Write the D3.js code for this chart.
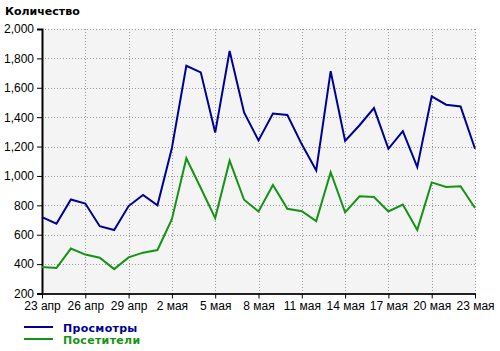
<!DOCTYPE html>
<html>
<head>
<meta charset="utf-8">
<script src="https://cdn.jsdelivr.net/npm/d3@7"></script>
<style>
  body { margin: 0; background: #fff; }
  svg { display: block; }
</style>
</head>
<body>
<main></main>
<script>
// Данные
const days = d3.range(31); // 23 апр .. 23 мая
const tickLabels = ["23 апр", "26 апр", "29 апр", "2 мая", "5 мая", "8 мая",
  "11 мая", "14 мая", "17 мая", "20 мая", "23 мая"];
const views = [720, 675, 840, 812, 658, 632, 795, 870, 800, 1190, 1750, 1705,
  1295, 1850, 1432, 1242, 1425, 1415, 1215, 1038, 1713, 1238, 1345, 1462,
  1185, 1305, 1060, 1542, 1485, 1473, 1185];
const visitors = [381, 373, 506, 465, 443, 366, 446, 478, 496, 705, 1120, 918,
  713, 1104, 838, 758, 938, 776, 760, 693, 1026, 752, 861, 856,
  758, 805, 633, 956, 925, 930, 782];
const yTicks = d3.range(200, 2001, 200);

const w = 500, h = 351;
const m = { left: 42, right: 25, top: 29, bottom: 57 };

const svg = d3.select('main')
    .append('svg')
    .attr('width', w)
    .attr('height', h);

const x = d3.scaleLinear().domain([0, 30]).range([m.left, w - m.right]);
const y = d3.scaleLinear().domain([200, 2000]).range([h - m.bottom - 0.5, m.top]);

// фон
svg.append('rect')
    .attr('x', x(0)).attr('y', y(2000))
    .attr('width', x(30) - x(0)).attr('height', y(200) - y(2000))
    .attr('fill', '#f4f4f4');

// сетка
svg.append('g').selectAll('line')
    .data(yTicks.slice(1))
    .join('line')
    .attr('x1', x(0)).attr('x2', x(30))
    .attr('y1', d => Math.round(y(d)) + 0.5).attr('y2', d => Math.round(y(d)) + 0.5)
    .attr('stroke', '#999').attr('stroke-dasharray', '1,2');

svg.append('g').selectAll('line')
    .data(d3.range(3, 31, 3))
    .join('line')
    .attr('x1', d => Math.round(x(d)) + 0.5).attr('x2', d => Math.round(x(d)) + 0.5)
    .attr('y1', y(2000)).attr('y2', y(200))
    .attr('stroke', '#999').attr('stroke-dasharray', '1,2');

// оси
const yAxis = d3.axisLeft(y).tickValues(yTicks).tickFormat(d3.format(',')).tickSize(5).tickPadding(3);
const gy = svg.append('g')
    .attr('transform', `translate(${x(0)},0)`)
    .call(yAxis);
gy.select('.domain').attr('stroke', '#000').attr('stroke-width', 2);
gy.selectAll('text').style('font', '12px "Liberation Sans", Arial, sans-serif').attr('fill', '#000');

const xAxis = d3.axisBottom(x).tickValues(d3.range(0, 31, 3))
    .tickFormat((d, i) => tickLabels[i]).tickSize(5).tickPadding(3).tickSizeOuter(0);
const gx = svg.append('g')
    .attr('transform', `translate(0,${y(200)})`)
    .call(xAxis);
gx.select('.domain').attr('stroke', '#222').attr('stroke-width', 2);
gx.selectAll('text').style('font', '12px "Liberation Sans", Arial, sans-serif').attr('fill', '#000');

// заголовок
svg.append('text')
    .attr('x', 5).attr('y', 15)
    .style('font', 'bold 11px "DejaVu Sans", sans-serif')
    .text('Количество');

// линии
const line = d3.line().x((d, i) => x(i)).y(d => y(d));

svg.append('path')
    .datum(visitors)
    .attr('d', line)
    .attr('fill', 'none')
    .attr('stroke', '#149414')
    .attr('stroke-width', 2);

svg.append('path')
    .datum(views)
    .attr('d', line)
    .attr('fill', 'none')
    .attr('stroke', '#000096')
    .attr('stroke-width', 2);

// легенда
const legend = [
  { name: 'Просмотры', color: '#000096', y: 327 },
  { name: 'Посетители', color: '#149414', y: 339 }
];
const lg = svg.append('g').selectAll('g').data(legend).join('g');
lg.append('line')
    .attr('x1', 24).attr('x2', 53)
    .attr('y1', d => d.y).attr('y2', d => d.y)
    .attr('stroke', d => d.color).attr('stroke-width', 2);
lg.append('text')
    .attr('x', 63).attr('y', d => d.y + 5)
    .attr('fill', d => d.color)
    .style('font', 'bold 11px "DejaVu Sans", sans-serif')
    .style('letter-spacing', '0.3px')
    .text(d => d.name);
</script>
</body>
</html>
